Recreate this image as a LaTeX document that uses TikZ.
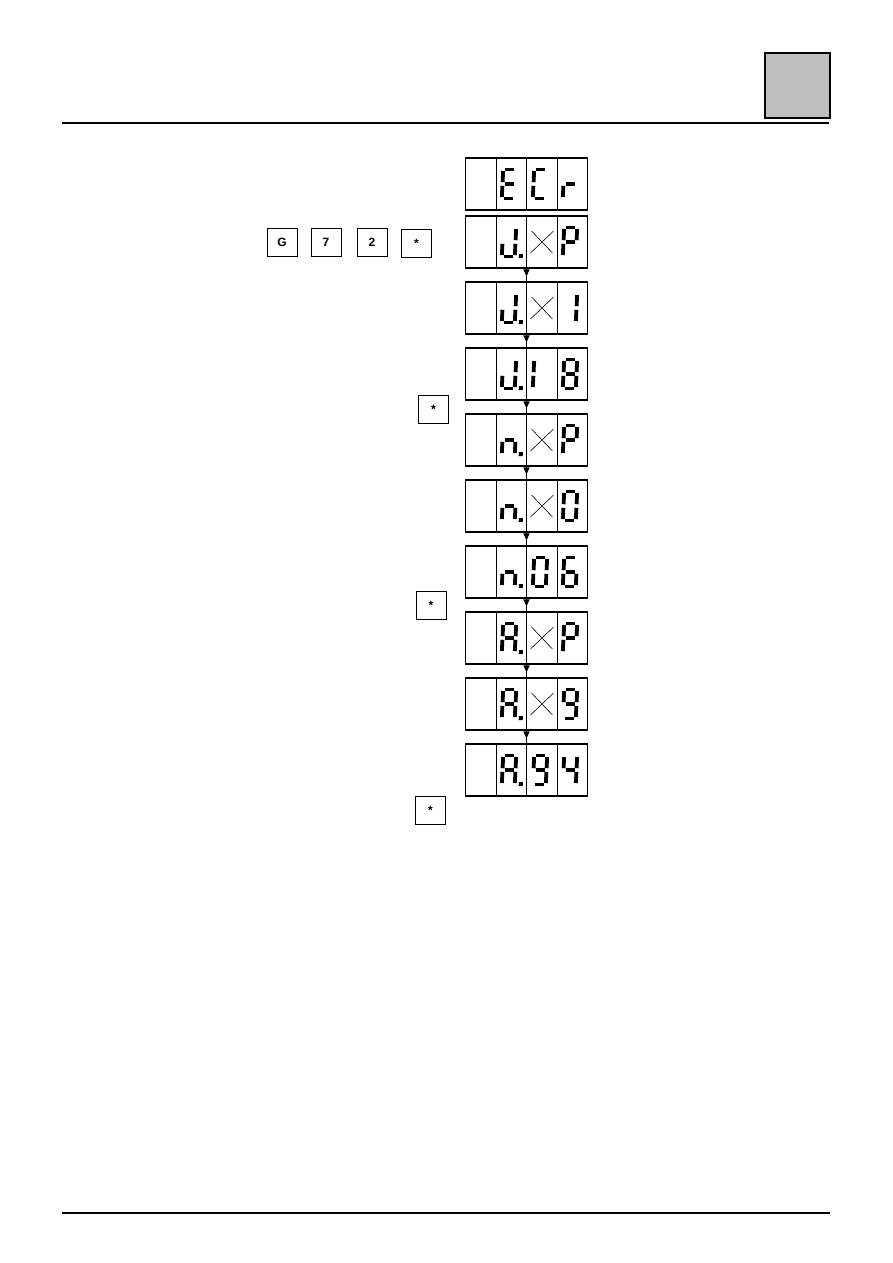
\documentclass[tikz,border=0pt]{standalone}
\usepackage{fontspec}
\newfontfamily\keyfont{Liberation Sans}
\usetikzlibrary{arrows.meta}

% segments of one display digit, centred on (0,0)
\newcommand\lcdsega{\draw[seg] (-4.5,-14.5) -- (4.5,-14.5);}
\newcommand\lcdsegb{\draw[seg] (6.5,-13) -- (6.5,-1.8);}
\newcommand\lcdsegc{\draw[seg] (6.5,1.8) -- (6.5,13);}
\newcommand\lcdsegd{\draw[seg] (-4.5,14.5) -- (4.5,14.5);}
\newcommand\lcdsege{\draw[seg] (-6.5,1.8) -- (-6.5,13);}
\newcommand\lcdsegf{\draw[seg] (-6.5,-13) -- (-6.5,-1.8);}
\newcommand\lcdsegg{\draw[seg] (-4.5,0) -- (4.5,0);}
\newcommand\lcdsegp{\fill (10.5,12) rectangle (14.5,16);}
\newcommand\lcdsegx{\draw[line width=0.6pt] (-9,-11) -- (13,11) (-9,11) -- (13,-11);}
\newcommand\lcdchar[3]{%
  \begin{scope}[shift={(#1,#2)},xslant=0.05]
    \foreach \s in {#3} {\csname lcdseg\s\endcsname}
  \end{scope}}
\newcommand\lcdrow[4]{\lcdchar{509}{#1}{#2}\lcdchar{540}{#1}{#3}\lcdchar{570}{#1}{#4}}

\begin{document}
\begin{tikzpicture}
[x=1pt,y=-1pt
,lcd/.style={draw,line width=1.1pt,minimum width=122pt,minimum height=52pt,inner sep=0pt}
,cell/.style={line width=1pt}
,key/.style={draw,line width=0.6pt,minimum width=30pt,minimum height=28pt,inner sep=0pt,font=\keyfont\bfseries\fontsize{12}{12}\selectfont}
,seg/.style={line width=3.8pt}
,be/.style={draw=black,line width=1pt,arrows={-Triangle[length=7pt,width=6pt]}}
]
\useasboundingbox (0,0) rectangle (893,1263);

% page frame
\draw[line width=1.5pt,fill=gray!50] (765,53) rectangle (830,118);
\draw[line width=2.5pt] (62,123) -- (829,123);
\draw[line width=2pt] (62,1213) -- (830,1213);

% keys
\node[key] (kg) at (282,242) {G};
\node[key] (k7) at (326,242) {7};
\node[key] (k2) at (372,242) {2};
\node[key] (ks1) at (416.5,243) {*};
\node[key] (ks2) at (433.5,409) {*};
\node[key] (ks3) at (431,605.5) {*};
\node[key] (ks4) at (430.5,810) {*};

% display rows
\foreach \i/\y in {1/184,2/242,3/308,4/374,5/440,6/506,7/572,8/638,9/704,10/770} {
  \node[lcd] (r\i) at (526.5,\y) {};
  \foreach \dx in {-30.5,0,30.5}
    \draw[cell] ([xshift=\dx]r\i.north) -- ([xshift=\dx]r\i.south);
}
\lcdrow{184}{a,d,e,f,g}{a,d,e,f}{e,g}
\lcdrow{242}{b,c,d,e,p}{x}{a,b,e,f,g}
\lcdrow{308}{b,c,d,e,p}{x}{b,c}
\lcdrow{374}{b,c,d,e,p}{e,f}{a,b,c,d,e,f,g}
\lcdrow{440}{c,e,g,p}{x}{a,b,e,f,g}
\lcdrow{506}{c,e,g,p}{x}{a,b,c,d,e,f}
\lcdrow{572}{c,e,g,p}{a,b,c,d,e,f}{a,c,d,e,f,g}
\lcdrow{638}{a,b,c,e,f,g,p}{x}{a,b,e,f,g}
\lcdrow{704}{a,b,c,e,f,g,p}{x}{a,b,c,d,f,g}
\lcdrow{770}{a,b,c,e,f,g,p}{a,b,c,d,f,g}{b,c,f,g}

% steps
\draw[line width=1pt] (r2.north) -- (r10.south);
\foreach \i in {2,...,9} {
  \pgfmathtruncatemacro\j{\i+1}
  \draw[be] (r\i.south) -- ([yshift=5pt]r\j.north);
}
\end{tikzpicture}
\end{document}
